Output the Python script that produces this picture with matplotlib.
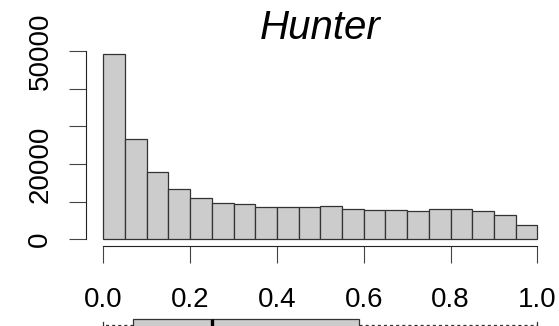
import matplotlib
matplotlib.use("Agg")
import matplotlib.pyplot as plt
import numpy as np

# histogram counts, 20 bins of width 0.05 on [0, 1]
bin_edges = [0.00, 0.05, 0.10, 0.15, 0.20, 0.25, 0.30, 0.35, 0.40, 0.45, 0.50,
             0.55, 0.60, 0.65, 0.70, 0.75, 0.80, 0.85, 0.90, 0.95, 1.00]
counts = [49250, 26750, 17950, 13250, 10850, 9680, 9250, 8450, 8450, 8480,
          8720, 8000, 7800, 7800, 7550, 7920, 8080, 7390, 6320, 3810]

y_ticks = [0, 10000, 20000, 30000, 40000, 50000]
y_labels = ["0", "", "20000", "", "", "50000"]
x_ticks = [0.0, 0.2, 0.4, 0.6, 0.8, 1.0]
x_labels = ["0.0", "0.2", "0.4", "0.6", "0.8", "1.0"]

# five-number summary for the boxplot strip underneath
box_min, box_q1, box_med, box_q3, box_max = 0.0, 0.069, 0.25, 0.589, 1.0

plt.rcParams["font.family"] = ["Liberation Sans", "DejaVu Sans"]
plt.rcParams["lines.scale_dashes"] = False

W, H = 559, 326
fig = plt.figure(figsize=(W / 100, H / 100), dpi=100)

# plot region in pixels (left, top, right, bottom)
L, T, R, B = 86.0, 46.9, 554.7, 246.4
ax = fig.add_axes([L / W, 1 - B / H, (R - L) / W, (B - T) / H])

ymax = max(counts)
ax.bar(bin_edges[:-1], counts, width=np.diff(bin_edges), align="edge",
       color="#cccccc", edgecolor="#333333", linewidth=0.9)
ax.set_xlim(-0.04, 1.04)
ax.set_ylim(-0.04 * ymax, 1.04 * ymax)

for s in ["top", "right"]:
    ax.spines[s].set_visible(False)
ax.spines["left"].set_bounds(0, 50000)
ax.spines["bottom"].set_bounds(0, 1)
for s in ["left", "bottom"]:
    ax.spines[s].set_color("#222222")
    ax.spines[s].set_linewidth(0.8)

ax.set_yticks(y_ticks)
ax.set_yticklabels(y_labels, rotation=90, va="center")
ax.set_xticks(x_ticks)
ax.set_xticklabels(x_labels)
ax.tick_params(axis="y", length=12.5, width=0.8, color="#444444", pad=11,
               labelsize=20)
ax.tick_params(axis="x", length=12, width=0.8, color="#444444", pad=17,
               labelsize=20)

ax.set_title("Hunter", fontsize=29, style="italic", pad=3)

# horizontal boxplot, mostly running off the bottom edge
bx_top, bx_bot = 313.5, 335.5
ax2 = fig.add_axes([L / W, 1 - bx_bot / H, (R - L) / W, (bx_bot - bx_top) / H])
stats = [dict(whislo=box_min, q1=box_q1, med=box_med, q3=box_q3, whishi=box_max)]
ax2.bxp(stats, positions=[1], widths=1.0, vert=False, patch_artist=True,
        showfliers=False, capwidths=0.5,
        boxprops=dict(facecolor="#cccccc", edgecolor="#333333", linewidth=0.9),
        medianprops=dict(color="black", linewidth=2.4),
        whiskerprops=dict(color="#333333", linewidth=0.9,
                          linestyle=(0, (2.2, 2.2))),
        capprops=dict(color="#333333", linewidth=0.9))
ax2.set_xlim(-0.04, 1.04)
ax2.set_ylim(0, 2)
ax2.axis("off")

fig.savefig("out.png", dpi=100)
